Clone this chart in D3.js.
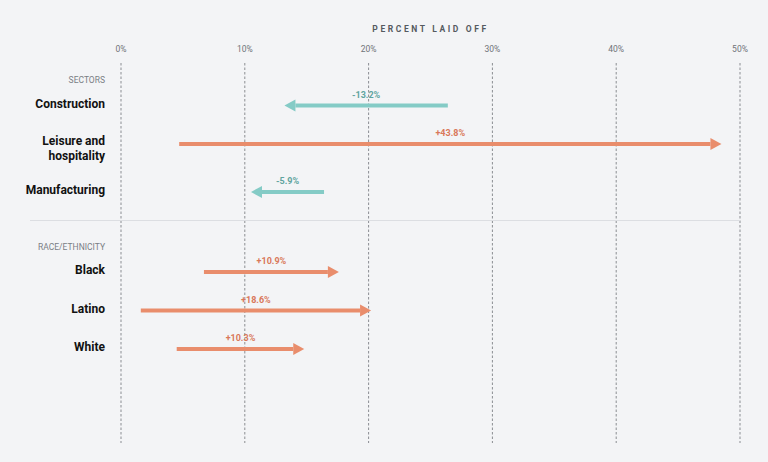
<!DOCTYPE html>
<html>
<head>
<meta charset="utf-8">
<script src="https://cdn.jsdelivr.net/npm/d3@7"></script>
<style>
  html, body { margin: 0; padding: 0; background: #f3f4f6; }
  svg { display: block; font-family: Roboto, "DejaVu Sans", sans-serif; }
</style>
</head>
<body>
<svg width="768" height="462"></svg>
<script>
// data
const sectorNames = ["Construction", "Leisure and hospitality", "Manufacturing"];
const sectorFrom = [26.4, 4.7, 16.4];
const sectorTo = [13.2, 48.5, 10.5];
const sectorChange = ["-13.2%", "+43.8%", "-5.9%"];

const raceNames = ["Black", "Latino", "White"];
const raceFrom = [6.7, 1.6, 4.5];
const raceTo = [17.6, 20.2, 14.8];
const raceChange = ["+10.9%", "+18.6%", "+10.3%"];

const groups = ["SECTORS", "RACE/ETHNICITY"];
const ticks = [0, 10, 20, 30, 40, 50];

const svg = d3.select("svg"),
      x = d3.scaleLinear().domain([0, 50]).range([121, 740]),
      labelX = 105,
      gridTop = 63, gridBottom = 443;

const teal = "#84cbc6", tealText = "#5fa49f",
      orange = "#e98d6c", orangeText = "#d9785a";

// build layout rows
const rows = [];
let cy = 80;
function addGroup(title, names, from, to, change) {
  rows.push({type: "header", y: cy, text: title});
  cy += 25.5;
  names.forEach((n, i) => {
    const lines = n === "Leisure and hospitality" ? ["Leisure and", "hospitality"] : [n];
    rows.push({type: "row", y: cy, lines, from: from[i], to: to[i], change: change[i]});
    cy += lines.length > 1 ? 48 : 38.5;
  });
}
addGroup(groups[0], sectorNames, sectorFrom, sectorTo, sectorChange);
const sepY = cy - 10;
cy = sepY + 26;
addGroup(groups[1], raceNames, raceFrom, raceTo, raceChange);

// title
svg.append("text")
  .attr("x", (x(0) + x(50)) / 2)
  .attr("y", 32)
  .attr("text-anchor", "middle")
  .style("font-size", "8.5px")
  .style("font-weight", "700")
  .style("letter-spacing", "2.6px")
  .attr("fill", "#555a60")
  .text("PERCENT LAID OFF");

// grid
svg.selectAll(".grid")
  .data(ticks)
  .enter()
  .append("line")
  .attr("x1", d => x(d))
  .attr("x2", d => x(d))
  .attr("y1", gridTop)
  .attr("y2", gridBottom)
  .attr("stroke", "#8a8d92")
  .attr("stroke-width", 1)
  .attr("stroke-dasharray", "2.5,2");

svg.selectAll(".tick-label")
  .data(ticks)
  .enter()
  .append("text")
  .attr("x", d => x(d))
  .attr("y", 52)
  .attr("text-anchor", "middle")
  .style("font-size", "8.5px")
  .attr("fill", "#6f7378")
  .text(d => d + "%");

// separator
svg.append("line")
  .attr("x1", 30)
  .attr("x2", 740)
  .attr("y1", sepY)
  .attr("y2", sepY)
  .attr("stroke", "#dcdee2")
  .attr("stroke-width", 1);

// headers
svg.selectAll(".header")
  .data(rows.filter(r => r.type === "header"))
  .enter()
  .append("text")
  .attr("x", labelX)
  .attr("y", d => d.y + 3)
  .attr("text-anchor", "end")
  .style("font-size", "8.5px")
  .attr("fill", "#7a7e84")
  .text(d => d.text);

const dataRows = rows.filter(r => r.type === "row");

// category labels
const cat = svg.selectAll(".cat")
  .data(dataRows)
  .enter()
  .append("text")
  .attr("text-anchor", "end")
  .style("font-size", "12px")
  .style("font-weight", "700")
  .attr("fill", "#111");
cat.each(function (d) {
  const t = d3.select(this);
  const y0 = d.lines.length > 1 ? d.y + 1 : d.y + 2;
  d.lines.forEach((l, i) => {
    t.append("tspan").attr("x", labelX).attr("y", y0 + i * 15).text(l);
  });
});

// arrows
const headLen = 11, headHalf = 6, stroke = 4;
dataRows.forEach(d => {
  const up = d.to > d.from;
  const col = up ? orange : teal;
  const x0 = x(d.from), x1 = x(d.to);
  const dir = up ? 1 : -1;
  const base = x1 - dir * headLen;
  svg.append("line")
    .attr("x1", x0)
    .attr("x2", base)
    .attr("y1", d.y)
    .attr("y2", d.y)
    .attr("stroke", col)
    .attr("stroke-width", stroke);
  svg.append("path")
    .attr("d", d3.line()([[base, d.y - headHalf], [x1, d.y], [base, d.y + headHalf]]) + "Z")
    .attr("fill", col);
  svg.append("text")
    .attr("x", (x0 + x1) / 2)
    .attr("y", d.y - 8)
    .attr("text-anchor", "middle")
    .style("font-size", "9px")
    .style("font-weight", "700")
    .attr("fill", up ? orangeText : tealText)
    .text(d.change);
});
</script>
</body>
</html>
